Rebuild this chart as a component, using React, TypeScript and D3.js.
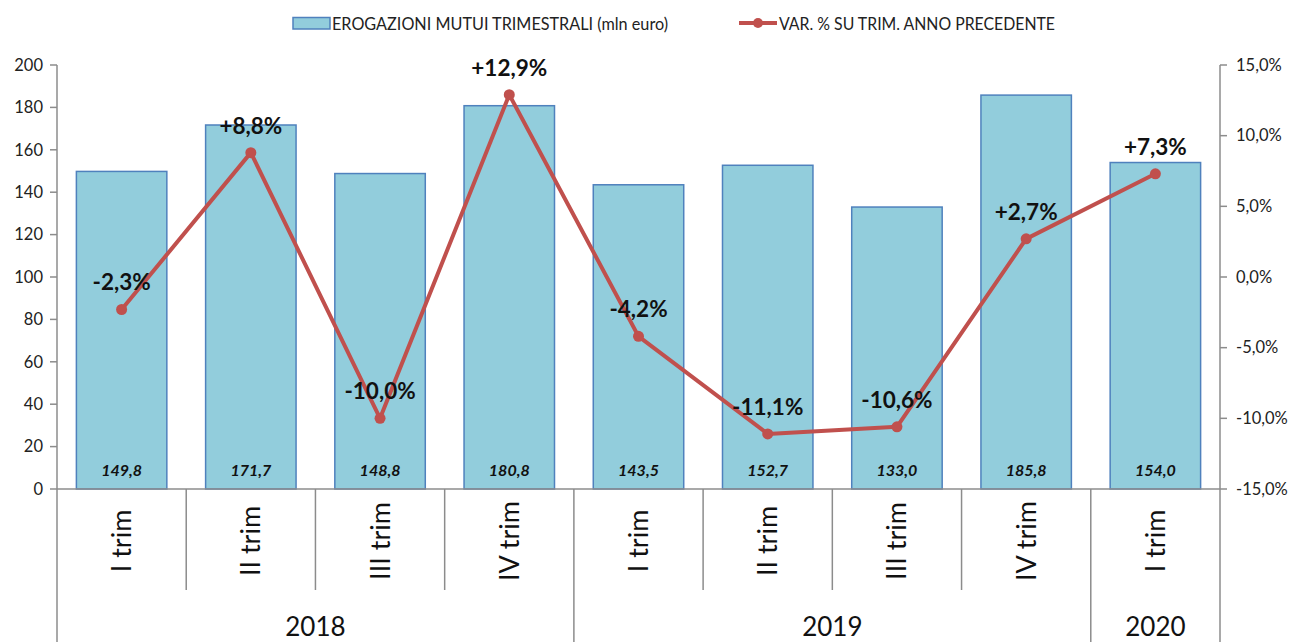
import React from "react";
import * as d3 from "d3";

const quarters = ["I trim", "II trim", "III trim", "IV trim", "I trim", "II trim", "III trim", "IV trim", "I trim"];
const years = ["2018", "2018", "2018", "2018", "2019", "2019", "2019", "2019", "2020"];
const yearGroups = [
  { label: "2018", start: 0, count: 4 },
  { label: "2019", start: 4, count: 4 },
  { label: "2020", start: 8, count: 1 },
];
const amounts = [149.8, 171.7, 148.8, 180.8, 143.5, 152.7, 133.0, 185.8, 154.0];
const variations = [-2.3, 8.8, -10.0, 12.9, -4.2, -11.1, -10.6, 2.7, 7.3];
const leftTicks = [0, 20, 40, 60, 80, 100, 120, 140, 160, 180, 200];
const rightTicks = [-15, -10, -5, 0, 5, 10, 15];
const barLegend = "EROGAZIONI MUTUI TRIMESTRALI (mln euro)";
const lineLegend = "VAR. % SU TRIM. ANNO PRECEDENTE";

const W = 1290;
const H = 642;
const left = 57;
const right = 1220;
const top = 65;
const bottom = 489;
const FONT = "Lato, 'Open Sans', sans-serif";
const AXIS = "#8c8c8c";

const fmt1 = (v: number) => v.toFixed(1).replace(".", ",");

export default function App() {
  const idx = quarters.map((_, i) => String(i));
  const x = d3.scaleBand<string>().domain(idx).range([left, right]).paddingInner(0.3).paddingOuter(0.15);
  const band = d3.scaleBand<string>().domain(idx).range([left, right]);
  const y = d3.scaleLinear().domain([0, 200]).range([bottom, top]);
  const y2 = d3.scaleLinear().domain([-15, 15]).range([bottom, top]);
  const cx = (i: number) => (band(String(i)) as number) + band.bandwidth() / 2;
  const line = d3
    .line<number>()
    .x((_, i) => cx(i))
    .y((d) => y2(d));

  return (
    <svg width={W} height={H} style={{ position: "absolute", left: 0, top: 0, background: "#fff" }}>
      {/* legend */}
      <rect x={293} y={17.5} width={37} height={11.5} fill="#92CDDC" stroke="#4F81BD" strokeWidth={1.5} />
      <text x={332} y={30} fontFamily={FONT} fontSize={17} fill="#222" textLength={336} lengthAdjust="spacingAndGlyphs">
        {barLegend}
      </text>
      <line x1={739} x2={777} y1={23} y2={23} stroke="#C0504D" strokeWidth={4} />
      <circle cx={758} cy={23} r={5} fill="#C0504D" />
      <text x={779} y={30} fontFamily={FONT} fontSize={17} fill="#222" textLength={276} lengthAdjust="spacingAndGlyphs">
        {lineLegend}
      </text>

      {/* bars */}
      {amounts.map((v, i) => (
        <rect
          key={"b" + i}
          x={x(String(i))}
          y={y(v)}
          width={x.bandwidth()}
          height={y(0) - y(v)}
          fill="#92CDDC"
          stroke="#4F81BD"
          strokeWidth={1.5}
        />
      ))}
      {amounts.map((v, i) => (
        <text
          key={"bl" + i}
          x={cx(i)}
          y={476}
          textAnchor="middle"
          fontFamily={FONT}
          fontSize={16}
          fontWeight="bold"
          fontStyle="italic"
          fill="#111"
        >
          {fmt1(v)}
        </text>
      ))}

      {/* left axis */}
      <line x1={left} x2={left} y1={top} y2={H} stroke={AXIS} strokeWidth={1.5} />
      {leftTicks.map((t) => (
        <g key={"lt" + t}>
          <line x1={left - 7} x2={left} y1={y(t)} y2={y(t)} stroke={AXIS} strokeWidth={1.5} />
          <text x={43} y={y(t)} dy="0.35em" textAnchor="end" fontFamily={FONT} fontSize={16.5} fill="#222">
            {t}
          </text>
        </g>
      ))}

      {/* right axis */}
      <line x1={right} x2={right} y1={top} y2={H} stroke={AXIS} strokeWidth={1.5} />
      {rightTicks.map((t) => (
        <g key={"rt" + t}>
          <line x1={right} x2={right + 7} y1={y2(t)} y2={y2(t)} stroke={AXIS} strokeWidth={1.5} />
          <text x={1236} y={y2(t)} dy="0.35em" textAnchor="start" fontFamily={FONT} fontSize={16.5} fill="#222">
            {fmt1(t) + "%"}
          </text>
        </g>
      ))}

      {/* category axis */}
      <line x1={left} x2={right} y1={bottom} y2={bottom} stroke={AXIS} strokeWidth={1.5} />
      {quarters.map((_, i) => {
        if (i === 0) return null;
        const bx = band(String(i)) as number;
        const isYear = years[i] !== years[i - 1];
        return (
          <line key={"sep" + i} x1={bx} x2={bx} y1={bottom} y2={isYear ? H : 590} stroke={AXIS} strokeWidth={1.5} />
        );
      })}
      {quarters.map((q, i) => (
        <text
          key={"q" + i}
          transform={`translate(${cx(i)},541) rotate(-90)`}
          textAnchor="middle"
          dy="0.35em"
          fontFamily={FONT}
          fontSize={27}
          fill="#111"
        >
          {q}
        </text>
      ))}
      {yearGroups.map((g) => {
        const x0 = band(String(g.start)) as number;
        const x1 = x0 + band.bandwidth() * g.count;
        return (
          <text key={"y" + g.label} x={(x0 + x1) / 2} y={636} textAnchor="middle" fontFamily={FONT} fontSize={26} fill="#111">
            {g.label}
          </text>
        );
      })}

      {/* line series */}
      <path d={line(variations) as string} fill="none" stroke="#C0504D" strokeWidth={4} strokeLinejoin="round" />
      {variations.map((v, i) => (
        <circle key={"p" + i} cx={cx(i)} cy={y2(v)} r={5.5} fill="#C0504D" />
      ))}
      {variations.map((v, i) => (
        <text
          key={"pl" + i}
          x={cx(i)}
          y={y2(v) - 27}
          dy="0.35em"
          textAnchor="middle"
          fontFamily={FONT}
          fontSize={22.5}
          fontWeight="bold"
          fill="#111"
        >
          {(v > 0 ? "+" : "") + fmt1(v) + "%"}
        </text>
      ))}
    </svg>
  );
}
